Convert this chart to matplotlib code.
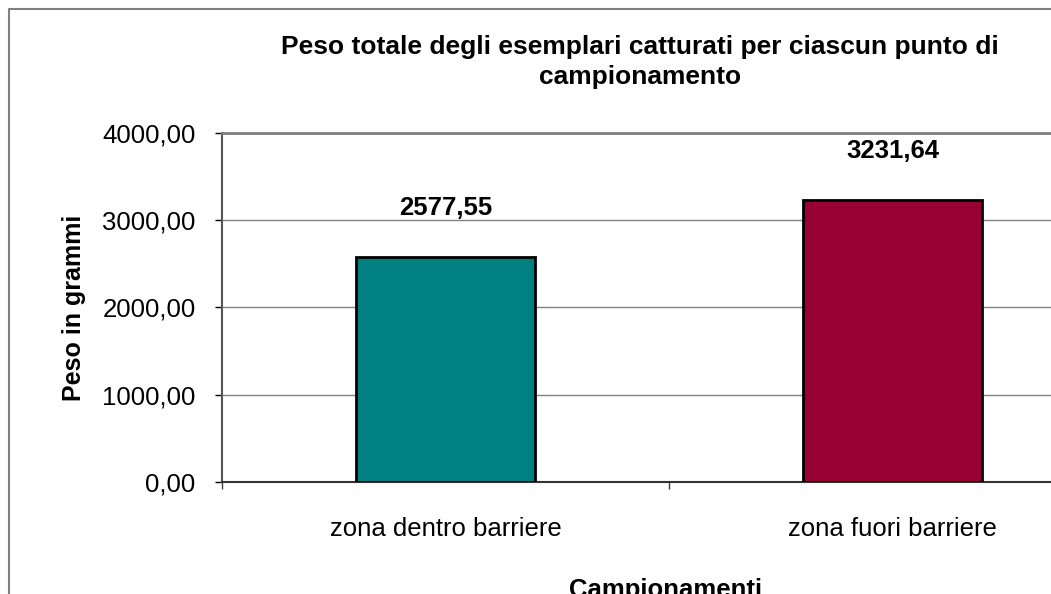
import matplotlib
matplotlib.use("Agg")
import matplotlib.pyplot as plt
from matplotlib.lines import Line2D

categories = ["zona dentro barriere", "zona fuori barriere"]
values = [2577.55, 3231.64]
colors = ["#008080", "#990033"]
yticks = [0, 1000, 2000, 3000, 4000]

plt.rcParams['font.family'] = ['Liberation Sans', 'DejaVu Sans']

W, H = 1051, 594
fig = plt.figure(figsize=(W / 100, H / 100), dpi=100)

# outer chart frame (cropped on right and bottom): only left and top edges visible
fx, fy = 8.5 / W, 1 - 9 / H
fig.lines.append(Line2D([fx, fx, 1.01], [-0.01, fy, fy], transform=fig.transFigure,
                        color="#808080", linewidth=1.5))

left, right, top, bottom = 222, 1116, 133, 482
ax = fig.add_axes([left / W, 1 - bottom / H, (right - left) / W, (bottom - top) / H])

x = list(range(len(categories)))
ax.bar(x, values, width=0.4, color=colors, edgecolor="black", linewidth=2, zorder=3)
ax.set_xlim(-0.5, len(categories) - 0.5)
ax.set_ylim(0, 4000)

ax.set_yticks(yticks)
ax.set_yticklabels([f"{v:.2f}".replace(".", ",") for v in yticks], fontsize=18.5)
ax.yaxis.grid(True, color="#808080", linewidth=1, zorder=0)
ax.tick_params(axis="y", length=5, width=1, pad=14, colors="black")

ax.set_xticks([i - 0.5 for i in range(len(categories) + 1)])
ax.set_xticklabels([""] * (len(categories) + 1))
ax.set_xticks(x, minor=True)
ax.set_xticklabels(categories, minor=True, fontsize=18.5)
ax.tick_params(axis="x", which="major", length=5, width=1, color="#404040")
ax.tick_params(axis="x", which="minor", length=0, pad=25)

ax.spines["top"].set_color("#808080")
ax.spines["top"].set_linewidth(2)
ax.spines["right"].set_visible(False)
ax.spines["left"].set_color("#555555")
ax.spines["left"].set_linewidth(1.5)
ax.spines["bottom"].set_color("#333333")
ax.spines["bottom"].set_linewidth(1.5)

for xi, v in zip(x, values):
    ax.annotate(f"{v:.2f}".replace(".", ","), (xi, v), xytext=(0, 35), textcoords="offset points",
                ha="center", va="center", fontsize=18.5, fontweight="bold")

ax.set_ylabel("Peso in grammi", fontsize=18, fontweight="bold", labelpad=12)
fig.text(666 / W, 1 - 602 / H, "Campionamenti", ha="center", va="bottom", fontsize=18.5, fontweight="bold")

fig.text(640 / W, 1 - 62 / H, "Peso totale degli esemplari catturati per ciascun punto di\ncampionamento",
         ha="center", va="center", fontsize=19, fontweight="bold", linespacing=1.3)

fig.savefig("out.png", dpi=100)
